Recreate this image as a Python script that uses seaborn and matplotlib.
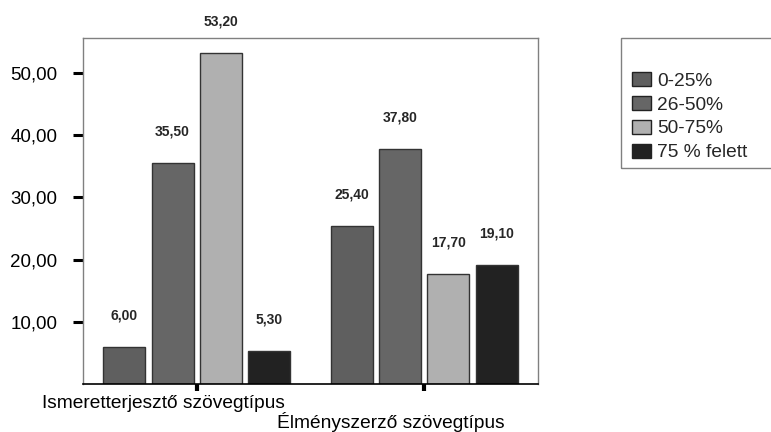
import matplotlib
matplotlib.use("Agg")
import matplotlib.pyplot as plt
import matplotlib.patches as mpatches
from matplotlib.transforms import ScaledTranslation
import seaborn as sns
import pandas as pd

# Data
categories = ["Ismeretterjesztő szövegtípus", "Élményszerző szövegtípus"]
groups = ["0-25%", "26-50%", "50-75%", "75 % felett"]
values_ismeretterjeszto = [6.00, 35.50, 53.20, 5.30]
values_elmenyszerzo = [25.40, 37.80, 17.70, 19.10]
y_ticks = [10, 20, 30, 40, 50]

colors = ["#5f5f5f", "#666666", "#b0b0b0", "#222222"]

rows = []
for cat, vals in zip(categories, [values_ismeretterjeszto, values_elmenyszerzo]):
    for g, v in zip(groups, vals):
        rows.append({"kategoria": cat, "csoport": g, "ertek": v})
df = pd.DataFrame(rows)

sns.set_style("white")
plt.rcParams["font.family"] = ["Liberation Sans", "DejaVu Sans"]

W, H = 771, 432
fig = plt.figure(figsize=(W / 100, H / 100), dpi=100)
ax = fig.add_axes([83 / W, 48 / H, 455 / W, 346 / H])

sns.barplot(data=df, x="kategoria", y="ertek", hue="csoport",
            hue_order=groups, order=categories, palette=colors,
            width=0.85, gap=0.13, edgecolor="#333333", linewidth=1.0,
            legend=True, ax=ax)

handles, labels = ax.get_legend_handles_labels()
ax.get_legend().remove()

ax.set_xlim(-0.5, 1.5)
ax.set_ylim(0, 55.6)
ax.set_xlabel("")
ax.set_ylabel("")

ax.set_yticks(y_ticks)
ax.set_yticklabels([f"{t:.2f}".replace(".", ",") for t in y_ticks])
ax.tick_params(axis="y", left=True, length=7, width=2.2, color="black",
               pad=11.5, labelsize=13.5, labelcolor="black")
ax.tick_params(axis="x", bottom=True, length=5, width=3, color="black",
               pad=3, labelsize=13.8, labelcolor="black")

# Staggered category labels, shifted left of their ticks
for i, lab in enumerate(ax.get_xticklabels()):
    dy = -17 / 100 if i == 1 else 0
    lab.set_transform(lab.get_transform() +
                      ScaledTranslation(-33 / 100, dy, fig.dpi_scale_trans))

for side in ["top", "right", "left"]:
    ax.spines[side].set_color("#808080")
    ax.spines[side].set_linewidth(1.0)
ax.spines["bottom"].set_color("black")
ax.spines["bottom"].set_linewidth(1.2)

# Value labels above each bar
for cont in ax.containers:
    for bar in cont:
        h = bar.get_height()
        ax.annotate(f"{h:.2f}".replace(".", ","),
                    (bar.get_x() + bar.get_width() / 2, h),
                    xytext=(0, 22.5), textcoords="offset points",
                    ha="center", va="center", fontsize=10, fontweight="bold",
                    annotation_clip=False)

# Legend with its own box
fig.patches.append(mpatches.Rectangle((621 / W, 1 - 168 / H), 160 / W, 130 / H,
                                      transform=fig.transFigure, fill=False,
                                      edgecolor="#808080", linewidth=1.0))
leg = fig.legend(handles, labels, loc="upper left",
                 bbox_to_anchor=(632 / W, 1 - 72 / H), frameon=False,
                 fontsize=13.8, handlelength=1.0, handleheight=0.75,
                 handletextpad=0.3, labelspacing=0.32, borderpad=0,
                 borderaxespad=0)
for h in leg.legend_handles:
    h.set_edgecolor("#222222")

fig.savefig("out.png", dpi=100)
